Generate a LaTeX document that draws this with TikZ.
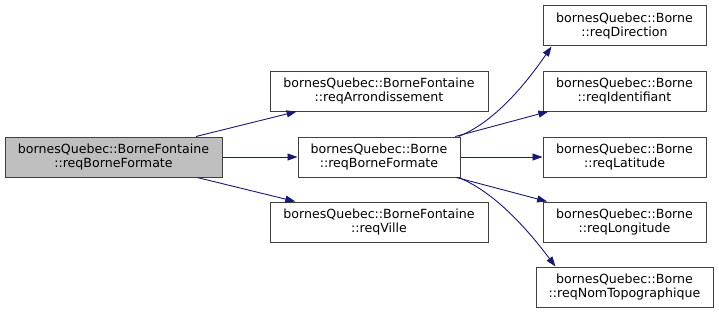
\documentclass[tikz,border=0pt]{standalone}
\usepackage{fontspec}
\setmainfont{DejaVu Sans}
\usepackage{tikz}
\usetikzlibrary{positioning,arrows.meta}

\definecolor{edgeblue}{HTML}{191970}
\definecolor{boxline}{HTML}{404040}
\definecolor{curfill}{HTML}{BFBFBF}

\begin{document}
\begin{tikzpicture}[x=1pt, y=1pt,
			fnode/.style={rectangle, draw=boxline, line width=1pt, fill=white, inner sep=0pt,
				minimum height=40pt, align=center, font=\fontsize{12.6pt}{13.4pt}\selectfont},
			call/.style={draw=edgeblue, line width=0.9pt, -{Triangle[length=10pt, width=7pt]}, fill=none},
		]
		
			\useasboundingbox (0,0) rectangle (719,-313);
		
			%Nodes
			\node[fnode, fill=curfill, minimum width=217pt]	(a) at (113.5,-157)	{bornesQuebec::BorneFontaine\\::reqBorneFormate};
			\node[fnode, minimum width=218pt]	(b) at (379,-91)	{bornesQuebec::BorneFontaine\\::reqArrondissement};
			\node[fnode, minimum width=162pt]	(c) at (379,-157)	{bornesQuebec::Borne\\::reqBorneFormate};
			\node[fnode, minimum width=218pt]	(d) at (379,-222)	{bornesQuebec::BorneFontaine\\::reqVille};
			\node[fnode, minimum width=163pt]	(e) at (624.5,-26)	{bornesQuebec::Borne\\::reqDirection};
			\node[fnode, minimum width=163pt]	(f) at (624.5,-91)	{bornesQuebec::Borne\\::reqIdentifiant};
			\node[fnode, minimum width=163pt]	(g) at (624.5,-157)	{bornesQuebec::Borne\\::reqLatitude};
			\node[fnode, minimum width=163pt]	(h) at (624.5,-222)	{bornesQuebec::Borne\\::reqLongitude};
			\node[fnode, minimum width=177pt]	(i) at (624.5,-287)	{bornesQuebec::Borne\\::reqNomTopographique};
		
			%Lines
			\draw[call]	(a) -- (b);
			\draw[call]	(a) -- (c);
			\draw[call]	(a) -- (d);
			\draw[call]	([xshift=-2pt]c.north east) .. controls +(40,16) and +(-20,-29) .. ([xshift=9pt]e.south west);
			\draw[call]	(c) -- (f);
			\draw[call]	(c) -- (g);
			\draw[call]	(c) -- (h);
			\draw[call]	([xshift=-2pt]c.south east) .. controls +(40,-16) and +(-22,29) .. ([xshift=20pt]i.north west);
		
		\end{tikzpicture}
\end{document}
